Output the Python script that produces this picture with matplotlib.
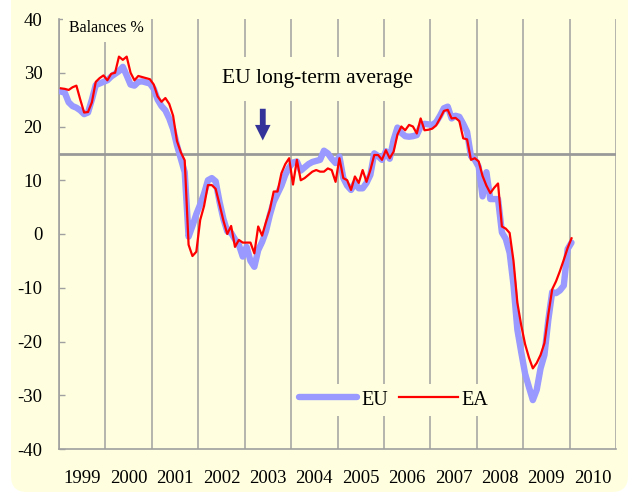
import matplotlib
matplotlib.use('Agg')
import matplotlib.pyplot as plt
import numpy as np
from matplotlib.patches import FancyBboxPatch

# ---------------- data ----------------
start_year = 1999
year_labels = ['1999', '2000', '2001', '2002', '2003', '2004',
               '2005', '2006', '2007', '2008', '2009', '2010']

eu = [26.5, 26.3, 24.5, 23.8, 23.5, 23.0, 22.3, 22.6, 25.0, 27.7, 28.0, 28.3,
      28.6, 29.3, 29.8, 30.3, 31.1, 29.5, 27.8, 27.6, 28.3, 28.4, 28.2, 28.0,
      27.0, 25.0, 23.8, 23.0, 21.5, 19.5, 16.5, 14.0, 11.5, -0.5, 1.5, 3.7,
      5.5, 7.5, 10.0, 10.4, 9.8, 6.0, 2.8, 0.5, 0.2, -1.0, -2.0, -4.2,
      -2.4, -5.0, -6.1, -3.0, -1.5, 0.5, 3.5, 6.0, 7.5, 9.0, 11.0, 12.4,
      13.3, 13.5, 11.8, 12.4, 13.0, 13.4, 13.6, 13.8, 15.5, 15.0, 14.0, 13.2,
      14.4, 10.4, 9.0, 8.2, 9.5, 8.5, 8.5, 9.5, 11.0, 15.0, 14.5, 13.8,
      15.4, 14.0, 17.5, 19.8, 18.8, 18.2, 18.1, 18.2, 18.4, 20.0, 20.5, 20.4,
      20.3, 20.8, 22.0, 23.4, 23.7, 21.5, 22.0, 21.8, 20.5, 19.0, 14.5, 13.8,
      12.5, 7.0, 11.5, 6.5, 6.5, 6.5, 0.3, -0.9, -3.5, -9.5, -17.8, -22.0,
      -26.0, -28.5, -30.9, -29.0, -25.0, -22.5, -16.0, -10.8, -11.0, -10.5, -9.6, -2.8,
      -1.6]

ea = [27.1, 27.0, 26.8, 27.3, 27.6, 25.0, 22.6, 22.7, 24.5, 28.3, 29.0, 29.5,
      28.6, 29.8, 30.0, 33.0, 32.4, 33.0, 30.0, 28.6, 29.4, 29.2, 29.0, 28.8,
      27.8, 25.6, 24.6, 25.3, 24.2, 22.0, 17.3, 15.2, 13.7, -2.0, -4.1, -3.3,
      2.6, 5.2, 9.1, 9.1, 8.4, 5.5, 2.5, 0.0, 1.5, -2.4, -1.1, -1.6,
      -1.6, -1.6, -3.6, 1.4, -0.3, 2.2, 4.5, 7.9, 7.9, 11.3, 13.0, 14.1,
      9.2, 13.8, 10.0, 10.4, 11.0, 11.6, 11.9, 11.6, 11.6, 12.2, 11.9, 9.7,
      14.1, 10.4, 10.0, 8.2, 10.7, 9.5, 11.9, 9.7, 11.9, 14.7, 14.7, 13.8,
      15.6, 14.1, 15.3, 18.5, 20.0, 19.3, 20.3, 20.0, 18.7, 21.5, 19.3, 19.4,
      19.6, 20.2, 21.5, 22.9, 23.1, 21.5, 21.6, 21.0, 17.8, 17.6, 13.8, 14.1,
      13.5, 10.8, 9.0, 7.6, 8.6, 9.4, 1.4, 1.0, 0.2, -5.0, -12.8, -17.0,
      -20.5, -23.0, -25.0, -24.0, -22.5, -20.3, -15.0, -10.3, -8.8, -6.9, -4.8, -2.6,
      -0.8]

long_term_avg = 14.8
y_ticks = [40, 30, 20, 10, 0, -10, -20, -30, -40]
y_tick_labels = ['40', '30', '20', '10', '0', '-10', '-20', '-30', '-40']

# ---------------- style ----------------
BG = '#FFFFE0'
GRID = '#A0A0A0'
SERIF = ['Liberation Serif', 'DejaVu Serif']

W, H = 631, 493
fig = plt.figure(figsize=(W / 100, H / 100), dpi=100)
fig.patch.set_facecolor('white')

bg = FancyBboxPatch((11 / W, 1 / H), (628 - 11) / W, 1.2,
                    boxstyle='round,pad=0,rounding_size=0.025',
                    mutation_aspect=W / H,
                    transform=fig.transFigure, facecolor=BG,
                    edgecolor='none', zorder=-10)
fig.patches.append(bg)

ax = fig.add_axes([59 / W, 1 - 449 / H, (616 - 59) / W, (449 - 19) / H])
ax.set_zorder(1)
ax.set_facecolor('none')

n_years = len(year_labels)
ax.set_xlim(start_year, start_year + n_years)
ax.set_ylim(-40, 40)

x = start_year + (np.arange(len(eu)) + 0.5) / 12.0

# long-term average line
ax.axhline(long_term_avg, color='#999999', lw=2.0, zorder=2)

l_eu, = ax.plot(x, eu, color='#9999FF', lw=4.6, solid_capstyle='round',
                solid_joinstyle='round', zorder=3, label='EU')
l_ea, = ax.plot(x, ea, color='#FF0000', lw=1.6, zorder=4, label='EA')

# grid / ticks
ax.set_xticks(np.arange(start_year, start_year + n_years + 1))
ax.set_xticks(np.arange(n_years) + start_year + 0.5, minor=True)
ax.set_xticklabels([''] * (n_years + 1))
ax.set_xticklabels(year_labels, minor=True, fontfamily=SERIF, fontsize=13.5)
ax.tick_params(axis='x', which='both', length=0, pad=15)
ax.grid(axis='x', which='major', color=GRID, lw=1.1, zorder=1)

ax.set_yticks(y_ticks)
ax.set_yticklabels(y_tick_labels, fontfamily=SERIF, fontsize=13.5)
ax.tick_params(axis='y', direction='in', length=4.5, width=1, color=GRID, pad=12)

for s in ['top', 'right']:
    ax.spines[s].set_visible(False)
for s in ['left', 'bottom']:
    ax.spines[s].set_color(GRID)
    ax.spines[s].set_linewidth(1.2)

# texts
ax.text(0.018, 0.979, 'Balances %', transform=ax.transAxes, ha='left', va='center',
        fontfamily=SERIF, fontsize=11.5, zorder=5,
        bbox=dict(boxstyle='square,pad=0.35', facecolor=BG, edgecolor='none'))

ax.text(2004.57, 40 - (79 - 19) / 5.375, 'EU long-term average', ha='center', va='center',
        fontfamily=SERIF, fontsize=15.5, zorder=5,
        bbox=dict(boxstyle='square,pad=0.6', facecolor=BG, edgecolor='none'))

ax.annotate('', xy=(2003.39, 17.4), xytext=(2003.39, 23.3),
            arrowprops=dict(arrowstyle='simple,head_length=0.8,head_width=0.8,tail_width=0.3',
                            mutation_scale=14, color='#333399', lw=0, shrinkA=0, shrinkB=0),
            zorder=6)

leg = ax.legend(handles=[l_eu, l_ea], loc='center', bbox_to_anchor=(0.601, 0.114),
                ncol=2, frameon=True, facecolor=BG, edgecolor='none', framealpha=1,
                prop={'family': SERIF, 'size': 14.5}, handlelength=2.9,
                handletextpad=0.2, columnspacing=0.55, borderpad=0.3,
                fancybox=False)
leg.set_zorder(7)

fig.savefig('out.png', dpi=100, facecolor=fig.get_facecolor())
